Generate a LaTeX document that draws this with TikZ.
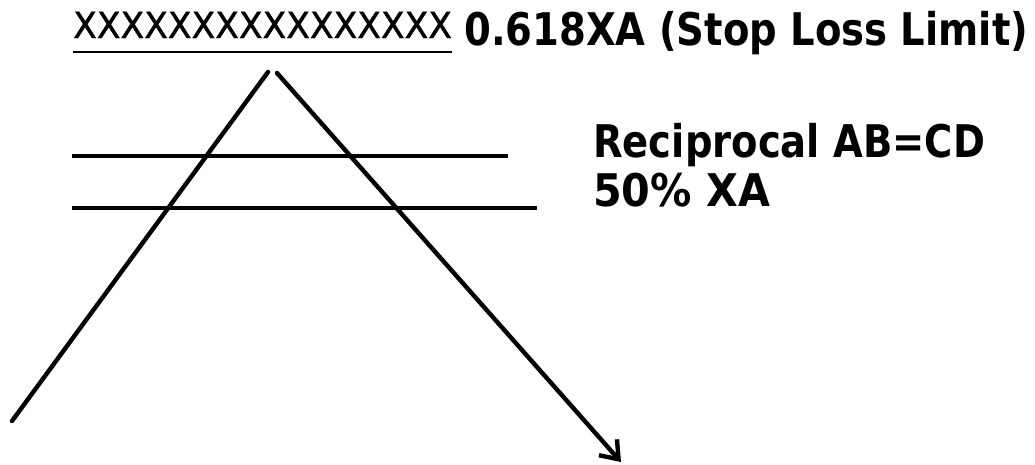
\documentclass[tikz,border=0pt]{standalone}
\usepackage{fontspec}
\setmainfont{DejaVu Sans}
\usepackage{tikz}
\usetikzlibrary{arrows.meta,calc,positioning}

\begin{document}
\begin{tikzpicture}[x=1pt,y=-1pt,>={Straight Barb[length=16pt,width=24pt]},
    leg/.style={line width=4.4pt,line cap=round},
    lvl/.style={line width=3.4pt},
    lbl/.style={anchor=base west,inner sep=0pt},
    big/.style={lbl,font=\bfseries\fontsize{45}{45}\selectfont}]
        \useasboundingbox (0,0) rectangle (1035,464);
        % swing points
        \coordinate (aL) at (268,72); \coordinate (aR) at (277,73);
        \coordinate (x0) at (12,421); \coordinate (d0) at (621,462);
        \draw[leg] (aL)--(x0);
        \draw[leg,->] (aR)--(d0);
        % levels
        \coordinate (h1a) at (72,156); \coordinate (h1b) at (508,156);
        \coordinate (h2a) at (72,208); \coordinate (h2b) at (537,208);
        \draw[lvl] (h1a)--(h1b);
        \draw[lvl] (h2a)--(h2b);
        % labels
        \node[lbl,font=\fontsize{36}{36}\selectfont\addfontfeature{FakeBold=1.2}] (xs) at (73,38) {\scalebox{0.96}[1]{XXXXXXXXXXXXXXXX}};
        \draw[line width=2.8pt] ([yshift=-14pt]xs.base west)--([yshift=-14pt]xs.base east);
        \node[big] (sl) at (464,45) {\scalebox{0.857}[1]{0.618XA (Stop Loss Limit)}};
        \node[big] (rc) at (593,157) {\scalebox{0.856}[1]{Reciprocal AB=CD}};
        \node[big] (hf) at (593,206) {\scalebox{0.917}[1]{50\% XA}};
      \end{tikzpicture}
\end{document}
